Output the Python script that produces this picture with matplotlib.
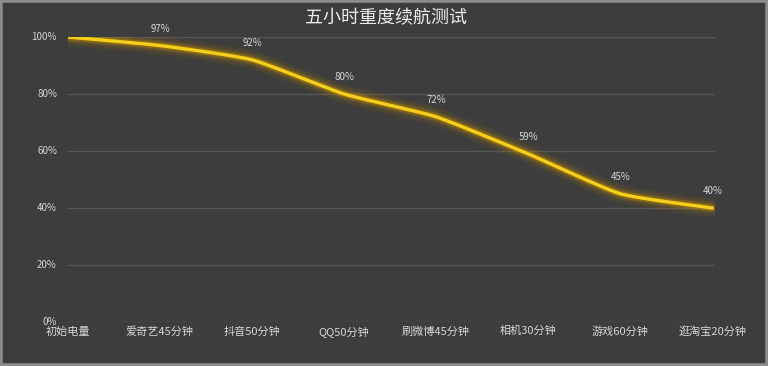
import numpy as np
import matplotlib
matplotlib.use("Agg")
import matplotlib.pyplot as plt
from matplotlib.patches import Rectangle

plt.rcParams['font.family'] = ['Noto Sans CJK SC', 'DejaVu Sans']

# data
categories = ["初始电量", "爱奇艺45分钟", "抖音50分钟", "QQ50分钟",
              "刷微博45分钟", "相机30分钟", "游戏60分钟", "逛淘宝20分钟"]
battery = [100, 97, 92, 80, 72, 59, 45, 40]
title = "五小时重度续航测试"

bg = "#3d3d3d"
txt = "#d6d6d6"


def smooth(x, y, n=30):
    # catmull-rom smoothing, like Excel's smoothed line
    x = np.asarray(x, float)
    y = np.asarray(y, float)
    px = np.concatenate([[x[0]], x, [x[-1]]])
    py = np.concatenate([[y[0]], y, [y[-1]]])
    xs, ys = [], []
    t = np.linspace(0, 1, n, endpoint=False)
    for i in range(1, len(px) - 2):
        for p, out in ((px, xs), (py, ys)):
            p0, p1, p2, p3 = p[i - 1], p[i], p[i + 1], p[i + 2]
            m1 = (p2 - p0) / 2 * 0.5
            m2 = (p3 - p1) / 2 * 0.5
            h00 = 2 * t**3 - 3 * t**2 + 1
            h10 = t**3 - 2 * t**2 + t
            h01 = -2 * t**3 + 3 * t**2
            h11 = t**3 - t**2
            out.extend(h00 * p1 + h10 * m1 + h01 * p2 + h11 * m2)
    xs.append(x[-1])
    ys.append(y[-1])
    return np.array(xs), np.array(ys)


fig = plt.figure(figsize=(7.68, 3.66), dpi=100, facecolor=bg)
ax = fig.add_axes([68 / 768, 1 - 322 / 366, (715 - 68) / 768, (322 - 37) / 366])
ax.set_facecolor(bg)

x = np.arange(len(categories))
sx, sy = smooth(x, battery)

# glow
for lw, a in [(14, 0.06), (11, 0.08), (8, 0.12), (6, 0.2), (4.5, 0.35)]:
    ax.plot(sx, sy, color="#c08a00", lw=lw, alpha=a, solid_capstyle="round", zorder=3)
ax.plot(sx, sy, color="#f5cf1c", lw=2.4, solid_capstyle="round", zorder=4)

for i in range(1, len(battery)):
    ax.annotate(f"{battery[i]}%", (x[i], battery[i]), xytext=(0, 12),
                textcoords="offset points", ha="center", va="center",
                color=txt, fontsize=7)

ax.set_xlim(0, 7.03)
ax.set_ylim(0, 100)
ax.set_yticks(range(0, 101, 20))
ax.set_yticklabels([f"{v}%" for v in range(0, 101, 20)])
ax.set_xticks(x)
ax.set_xticklabels(categories)
ax.tick_params(axis="both", length=0, colors=txt, labelsize=7)
ax.tick_params(axis="x", pad=3, labelsize=8)
ax.tick_params(axis="y", pad=8)
for lab in ax.get_yticklabels():
    lab.set_va("center")

ax.grid(axis="y", color="#575757", lw=1)
ax.set_axisbelow(True)
for s in ax.spines.values():
    s.set_visible(False)

fig.text(386 / 768, 1 - 18 / 366, title, ha="center", va="center",
         color="#ececec", fontsize=13)

fig.patches.append(Rectangle((0, 0), 1, 1, transform=fig.transFigure,
                             fill=False, edgecolor="#8c8c8c", lw=4, zorder=10))

fig.savefig("out.png", dpi=100, facecolor=bg)
